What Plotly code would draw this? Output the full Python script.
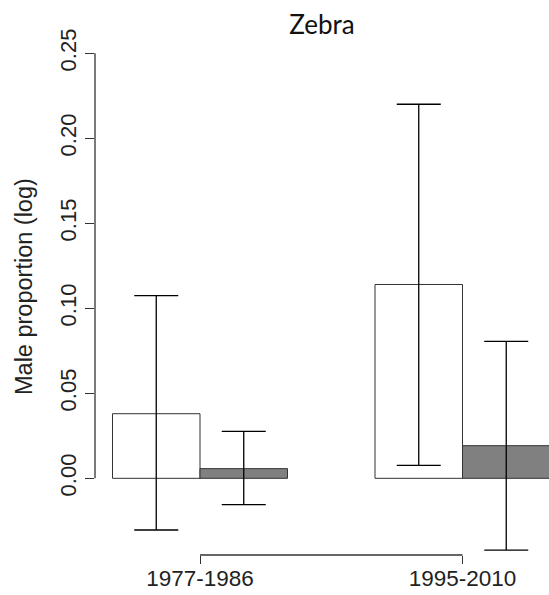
import plotly.graph_objects as go

# ---- data ----
groups = ["1977-1986", "1995-2010"]
white_vals = [0.038, 0.114]
white_upper = [0.1074, 0.220]
white_lower = [-0.0304, 0.0076]
grey_vals = [0.0057, 0.0192]
grey_upper = [0.0276, 0.0806]
grey_lower = [-0.0155, -0.0422]
yticks = [0.00, 0.05, 0.10, 0.15, 0.20, 0.25]
ytick_labels = ["0.00", "0.05", "0.10", "0.15", "0.20", "0.25"]
title_text = "Zebra"
ylabel = "Male proportion (log)"

# R barplot(beside=TRUE) positions: space=c(0,1), bar width 1
n_bars = 2
white_x = [g * (n_bars + 1) + 1.5 for g in range(len(groups))]
grey_x = [g * (n_bars + 1) + 2.5 for g in range(len(groups))]
group_x = [(a + b) / 2 for a, b in zip(white_x, grey_x)]

W, H = 549, 595
ML, MR, MT, MB = 95, 0, 40, 40

font_main = "Liberation Sans, Arial, sans-serif"
txt = "#222222"
linec = "#333333"

fig = go.Figure()
fig.add_trace(go.Bar(
    x=white_x, y=white_vals, width=1,
    marker=dict(color="white", line=dict(color=linec, width=1)),
    error_y=dict(type="data", symmetric=False,
                 array=[u - v for u, v in zip(white_upper, white_vals)],
                 arrayminus=[v - l for v, l in zip(white_vals, white_lower)],
                 color="black", thickness=1.3, width=22),
    showlegend=False, hoverinfo="skip",
))
fig.add_trace(go.Bar(
    x=grey_x, y=grey_vals, width=1,
    marker=dict(color="#808080", line=dict(color=linec, width=1)),
    error_y=dict(type="data", symmetric=False,
                 array=[u - v for u, v in zip(grey_upper, grey_vals)],
                 arrayminus=[v - l for v, l in zip(grey_vals, grey_lower)],
                 color="black", thickness=1.3, width=22),
    showlegend=False, hoverinfo="skip",
))

# axis lines like R (only spanning ticks)
fig.add_shape(type="line", xref="paper", yref="y", x0=0, x1=0,
              y0=yticks[0], y1=yticks[-1], line=dict(color=linec, width=1.3))
fig.add_shape(type="line", xref="x", yref="paper", x0=group_x[0], x1=group_x[-1],
              y0=0, y1=0, line=dict(color=linec, width=1.3))

fig.add_annotation(text=ylabel, xref="paper", yref="paper",
                   x=(24 - ML) / (W - ML - MR), y=(H - MB - 287) / (H - MT - MB),
                   xanchor="center", yanchor="middle", textangle=-90, showarrow=False,
                   font=dict(family=font_main, size=23.5, color=txt))

fig.update_layout(
    width=W, height=H,
    margin=dict(l=ML, r=MR, t=MT, b=MB, pad=0, autoexpand=False),
    paper_bgcolor="white", plot_bgcolor="white",
    barmode="overlay",
    title=dict(text=title_text, x=0.5, xref="paper", xanchor="center",
               y=1 - 25 / H, yref="container", yanchor="middle",
               font=dict(family="Lato, Carlito, sans-serif", size=26, color="#111111")),
    xaxis=dict(range=[0.8, 0.8 + (W - ML - MR) / 87.5], tickvals=group_x, ticktext=groups,
               ticks="outside", ticklen=8, tickwidth=1.3, tickcolor=linec, automargin=False,
               ticklabelstandoff=-5,
               showline=False, showgrid=False, zeroline=False,
               tickfont=dict(family=font_main, size=22.5, color=txt)),
    yaxis=dict(range=[-0.0451, 0.2578], tickvals=yticks, ticktext=ytick_labels,
               tickangle=-90, ticks="outside", ticklen=9, tickwidth=1.3, tickcolor=linec,
               showline=False, showgrid=False, zeroline=False, automargin=False,
               tickfont=dict(family=font_main, size=22, color=txt)),
)

fig.write_html("out.html", config={"displayModeBar": False},
               post_script="document.body.style.margin='0';")
